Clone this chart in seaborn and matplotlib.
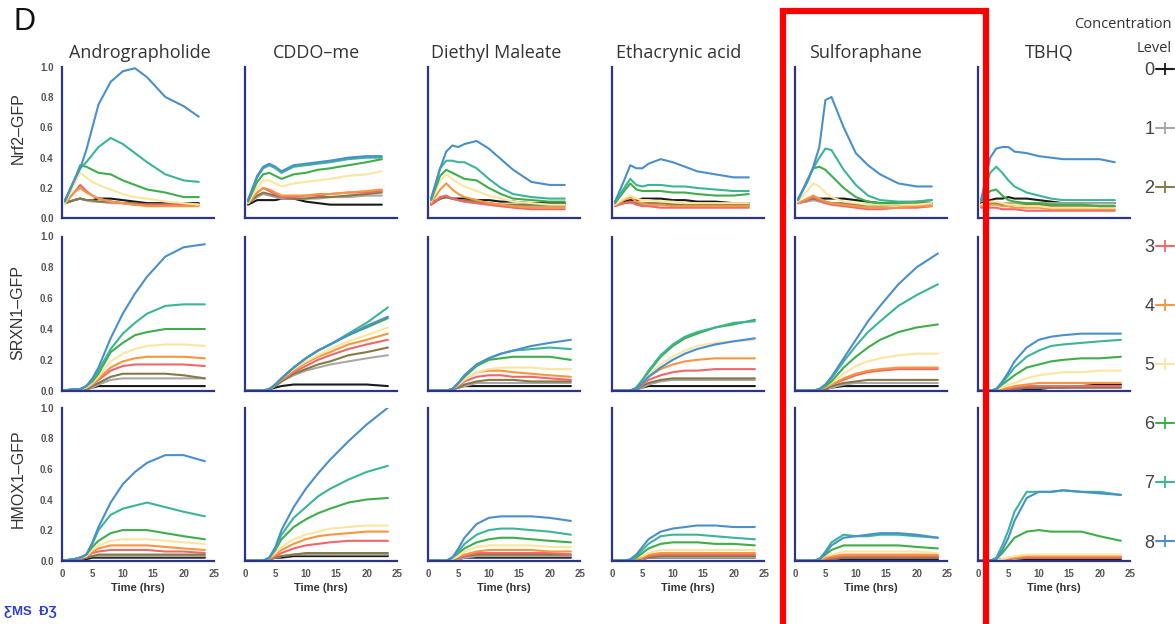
import matplotlib
matplotlib.use("Agg")
import matplotlib.pyplot as plt
from matplotlib.lines import Line2D
from matplotlib.patches import Rectangle
import pandas as pd
import seaborn as sns

# ---------------- data ----------------
compounds = ["Andrographolide", "CDDO–me", "Diethyl Maleate", "Ethacrynic acid", "Sulforaphane", "TBHQ"]
reporters = ["Nrf2–GFP", "SRXN1–GFP", "HMOX1–GFP"]
levels = ["0", "1", "2", "3", "4", "5", "6", "7", "8"]
level_colors = ["#1a1a1a", "#a8a8a8", "#857a45", "#f0676b", "#f7963f", "#fbe6a0", "#3fae49", "#3bb596", "#4a8fcd"]
yticks = [0.0, 0.2, 0.4, 0.6, 0.8, 1.0]
xticks = [0, 5, 10, 15, 20, 25]

time_nrf2 = [0.5, 2, 3, 4, 5, 6, 8, 10, 12, 14, 17, 20, 22.5]
time_late = [0, 2, 3, 4, 5, 6, 8, 10, 12, 14, 17, 20, 23.5]

# each panel: one list per concentration level 0..8
andro_nrf2 = [
    [0.10, 0.12, 0.13, 0.12, 0.12, 0.13, 0.13, 0.12, 0.11, 0.10, 0.10, 0.10, 0.10],
    [0.10, 0.12, 0.13, 0.12, 0.11, 0.11, 0.10, 0.10, 0.09, 0.09, 0.09, 0.09, 0.09],
    [0.10, 0.12, 0.13, 0.12, 0.12, 0.11, 0.11, 0.10, 0.10, 0.09, 0.09, 0.09, 0.09],
    [0.10, 0.17, 0.22, 0.18, 0.15, 0.13, 0.11, 0.10, 0.09, 0.09, 0.09, 0.09, 0.09],
    [0.10, 0.17, 0.20, 0.17, 0.15, 0.13, 0.11, 0.10, 0.09, 0.08, 0.08, 0.08, 0.08],
    [0.10, 0.22, 0.30, 0.27, 0.24, 0.22, 0.19, 0.16, 0.14, 0.13, 0.11, 0.10, 0.09],
    [0.11, 0.25, 0.35, 0.34, 0.32, 0.30, 0.29, 0.25, 0.22, 0.19, 0.17, 0.14, 0.14],
    [0.12, 0.25, 0.33, 0.37, 0.42, 0.47, 0.53, 0.49, 0.43, 0.37, 0.29, 0.25, 0.24],
    [0.12, 0.25, 0.33, 0.45, 0.60, 0.75, 0.90, 0.97, 0.99, 0.93, 0.80, 0.74, 0.67],
]
cddo_nrf2 = [
    [0.09, 0.12, 0.12, 0.12, 0.12, 0.13, 0.13, 0.11, 0.10, 0.09, 0.09, 0.09, 0.09],
    [0.10, 0.14, 0.16, 0.15, 0.14, 0.13, 0.13, 0.13, 0.13, 0.14, 0.14, 0.15, 0.15],
    [0.10, 0.15, 0.17, 0.16, 0.15, 0.14, 0.13, 0.13, 0.14, 0.14, 0.15, 0.16, 0.17],
    [0.10, 0.17, 0.20, 0.18, 0.16, 0.14, 0.14, 0.15, 0.15, 0.16, 0.17, 0.17, 0.18],
    [0.10, 0.17, 0.20, 0.19, 0.17, 0.15, 0.15, 0.15, 0.16, 0.16, 0.17, 0.18, 0.19],
    [0.10, 0.20, 0.25, 0.25, 0.23, 0.21, 0.23, 0.24, 0.25, 0.26, 0.28, 0.29, 0.31],
    [0.11, 0.24, 0.29, 0.30, 0.28, 0.26, 0.29, 0.30, 0.32, 0.33, 0.35, 0.37, 0.39],
    [0.12, 0.27, 0.33, 0.35, 0.33, 0.30, 0.34, 0.35, 0.36, 0.37, 0.39, 0.40, 0.40],
    [0.12, 0.28, 0.34, 0.36, 0.34, 0.31, 0.35, 0.36, 0.37, 0.38, 0.40, 0.41, 0.41],
]
dem_nrf2 = [
    [0.10, 0.13, 0.14, 0.13, 0.13, 0.13, 0.12, 0.12, 0.11, 0.11, 0.10, 0.10, 0.10],
    [0.09, 0.13, 0.14, 0.13, 0.12, 0.11, 0.10, 0.09, 0.08, 0.08, 0.08, 0.08, 0.08],
    [0.09, 0.13, 0.14, 0.13, 0.12, 0.12, 0.11, 0.10, 0.09, 0.09, 0.09, 0.09, 0.09],
    [0.09, 0.14, 0.15, 0.13, 0.12, 0.11, 0.10, 0.09, 0.08, 0.07, 0.06, 0.06, 0.06],
    [0.10, 0.19, 0.23, 0.19, 0.16, 0.14, 0.12, 0.10, 0.09, 0.08, 0.07, 0.07, 0.07],
    [0.11, 0.25, 0.29, 0.26, 0.23, 0.21, 0.18, 0.15, 0.13, 0.11, 0.10, 0.09, 0.09],
    [0.12, 0.28, 0.32, 0.30, 0.28, 0.26, 0.25, 0.20, 0.16, 0.13, 0.12, 0.11, 0.11],
    [0.12, 0.33, 0.38, 0.38, 0.37, 0.37, 0.33, 0.26, 0.20, 0.16, 0.14, 0.13, 0.13],
    [0.13, 0.33, 0.44, 0.48, 0.47, 0.49, 0.51, 0.46, 0.39, 0.32, 0.24, 0.22, 0.22],
]
etha_nrf2 = [
    [0.09, 0.11, 0.12, 0.12, 0.13, 0.13, 0.13, 0.12, 0.12, 0.11, 0.11, 0.10, 0.10],
    [0.09, 0.10, 0.10, 0.10, 0.09, 0.09, 0.09, 0.09, 0.08, 0.08, 0.08, 0.08, 0.08],
    [0.09, 0.10, 0.11, 0.10, 0.10, 0.10, 0.10, 0.09, 0.09, 0.09, 0.09, 0.09, 0.09],
    [0.08, 0.10, 0.11, 0.09, 0.08, 0.08, 0.07, 0.07, 0.07, 0.07, 0.07, 0.07, 0.07],
    [0.09, 0.12, 0.14, 0.11, 0.10, 0.09, 0.09, 0.08, 0.08, 0.08, 0.08, 0.08, 0.08],
    [0.09, 0.13, 0.15, 0.13, 0.12, 0.12, 0.11, 0.11, 0.10, 0.10, 0.10, 0.10, 0.10],
    [0.10, 0.18, 0.23, 0.19, 0.18, 0.18, 0.18, 0.17, 0.17, 0.16, 0.15, 0.15, 0.16],
    [0.11, 0.20, 0.26, 0.22, 0.21, 0.22, 0.22, 0.21, 0.21, 0.20, 0.19, 0.18, 0.18],
    [0.11, 0.25, 0.35, 0.33, 0.33, 0.36, 0.39, 0.37, 0.34, 0.31, 0.29, 0.27, 0.27],
]
sulfo_nrf2 = [
    [0.10, 0.12, 0.12, 0.13, 0.13, 0.13, 0.13, 0.12, 0.11, 0.10, 0.10, 0.10, 0.10],
    [0.10, 0.11, 0.12, 0.11, 0.10, 0.10, 0.09, 0.09, 0.08, 0.08, 0.09, 0.09, 0.09],
    [0.10, 0.12, 0.13, 0.12, 0.11, 0.10, 0.10, 0.09, 0.09, 0.09, 0.09, 0.10, 0.10],
    [0.10, 0.12, 0.14, 0.12, 0.10, 0.09, 0.08, 0.07, 0.06, 0.06, 0.07, 0.07, 0.08],
    [0.10, 0.13, 0.15, 0.13, 0.11, 0.10, 0.09, 0.08, 0.07, 0.07, 0.07, 0.08, 0.08],
    [0.11, 0.18, 0.23, 0.21, 0.17, 0.14, 0.11, 0.10, 0.09, 0.09, 0.09, 0.09, 0.10],
    [0.12, 0.25, 0.33, 0.34, 0.32, 0.28, 0.20, 0.14, 0.11, 0.10, 0.10, 0.11, 0.12],
    [0.12, 0.24, 0.33, 0.40, 0.46, 0.45, 0.32, 0.22, 0.15, 0.12, 0.11, 0.11, 0.12],
    [0.13, 0.24, 0.34, 0.47, 0.78, 0.80, 0.60, 0.43, 0.35, 0.29, 0.23, 0.21, 0.21],
]
tbhq_nrf2 = [
    [0.10, 0.12, 0.13, 0.13, 0.14, 0.13, 0.13, 0.12, 0.11, 0.10, 0.10, 0.10, 0.10],
    [0.09, 0.10, 0.10, 0.10, 0.10, 0.10, 0.10, 0.10, 0.10, 0.10, 0.10, 0.10, 0.10],
    [0.09, 0.10, 0.10, 0.09, 0.09, 0.09, 0.09, 0.09, 0.08, 0.08, 0.08, 0.08, 0.08],
    [0.07, 0.07, 0.07, 0.06, 0.06, 0.06, 0.05, 0.05, 0.05, 0.05, 0.05, 0.05, 0.05],
    [0.08, 0.09, 0.09, 0.08, 0.08, 0.07, 0.07, 0.07, 0.06, 0.06, 0.06, 0.06, 0.06],
    [0.09, 0.11, 0.11, 0.10, 0.09, 0.09, 0.08, 0.08, 0.07, 0.07, 0.07, 0.07, 0.07],
    [0.11, 0.18, 0.19, 0.15, 0.12, 0.11, 0.10, 0.10, 0.09, 0.09, 0.09, 0.08, 0.08],
    [0.12, 0.30, 0.34, 0.30, 0.25, 0.21, 0.17, 0.15, 0.13, 0.12, 0.12, 0.12, 0.12],
    [0.12, 0.40, 0.46, 0.47, 0.47, 0.44, 0.43, 0.41, 0.40, 0.39, 0.39, 0.39, 0.37],
]

andro_srxn1 = [
    [0.00, 0.00, 0.00, 0.01, 0.02, 0.03, 0.03, 0.03, 0.03, 0.03, 0.03, 0.03, 0.03],
    [0.00, 0.00, 0.01, 0.01, 0.02, 0.04, 0.07, 0.08, 0.08, 0.08, 0.08, 0.08, 0.08],
    [0.00, 0.00, 0.01, 0.01, 0.03, 0.05, 0.09, 0.11, 0.11, 0.11, 0.11, 0.10, 0.08],
    [0.00, 0.01, 0.01, 0.02, 0.04, 0.07, 0.13, 0.16, 0.17, 0.17, 0.17, 0.17, 0.16],
    [0.00, 0.01, 0.01, 0.02, 0.04, 0.08, 0.15, 0.19, 0.21, 0.22, 0.22, 0.22, 0.21],
    [0.00, 0.01, 0.01, 0.02, 0.05, 0.09, 0.19, 0.24, 0.27, 0.29, 0.30, 0.30, 0.29],
    [0.00, 0.01, 0.01, 0.03, 0.06, 0.11, 0.25, 0.31, 0.36, 0.38, 0.40, 0.40, 0.40],
    [0.00, 0.01, 0.01, 0.03, 0.07, 0.13, 0.27, 0.37, 0.44, 0.50, 0.55, 0.56, 0.56],
    [0.00, 0.01, 0.01, 0.03, 0.08, 0.15, 0.34, 0.50, 0.63, 0.74, 0.87, 0.93, 0.95],
]
cddo_srxn1 = [
    [0.00, 0.00, 0.00, 0.01, 0.02, 0.03, 0.04, 0.04, 0.04, 0.04, 0.04, 0.04, 0.03],
    [0.00, 0.00, 0.00, 0.01, 0.03, 0.06, 0.10, 0.13, 0.15, 0.17, 0.19, 0.21, 0.23],
    [0.00, 0.00, 0.00, 0.01, 0.03, 0.06, 0.11, 0.14, 0.17, 0.19, 0.23, 0.25, 0.28],
    [0.00, 0.00, 0.00, 0.01, 0.04, 0.07, 0.12, 0.16, 0.20, 0.23, 0.27, 0.30, 0.33],
    [0.00, 0.00, 0.00, 0.01, 0.04, 0.07, 0.13, 0.18, 0.22, 0.25, 0.30, 0.33, 0.37],
    [0.00, 0.00, 0.00, 0.01, 0.04, 0.08, 0.14, 0.19, 0.23, 0.27, 0.32, 0.36, 0.41],
    [0.00, 0.00, 0.00, 0.01, 0.04, 0.08, 0.15, 0.21, 0.26, 0.30, 0.36, 0.41, 0.47],
    [0.00, 0.00, 0.00, 0.01, 0.04, 0.08, 0.15, 0.21, 0.26, 0.30, 0.37, 0.44, 0.54],
    [0.00, 0.00, 0.00, 0.01, 0.04, 0.08, 0.15, 0.21, 0.26, 0.30, 0.36, 0.42, 0.48],
]
dem_srxn1 = [
    [0.00, 0.00, 0.00, 0.01, 0.02, 0.03, 0.03, 0.03, 0.03, 0.03, 0.03, 0.03, 0.03],
    [0.00, 0.00, 0.00, 0.01, 0.02, 0.03, 0.05, 0.05, 0.05, 0.05, 0.05, 0.05, 0.05],
    [0.00, 0.00, 0.00, 0.01, 0.02, 0.04, 0.06, 0.07, 0.07, 0.07, 0.06, 0.06, 0.06],
    [0.00, 0.00, 0.00, 0.01, 0.03, 0.06, 0.09, 0.10, 0.10, 0.09, 0.09, 0.08, 0.07],
    [0.00, 0.00, 0.00, 0.01, 0.04, 0.07, 0.12, 0.13, 0.13, 0.12, 0.11, 0.10, 0.09],
    [0.00, 0.00, 0.00, 0.01, 0.04, 0.07, 0.12, 0.14, 0.15, 0.15, 0.15, 0.14, 0.14],
    [0.00, 0.00, 0.00, 0.01, 0.05, 0.09, 0.16, 0.20, 0.21, 0.22, 0.22, 0.22, 0.20],
    [0.00, 0.00, 0.00, 0.01, 0.05, 0.10, 0.17, 0.21, 0.24, 0.26, 0.27, 0.28, 0.27],
    [0.00, 0.00, 0.00, 0.01, 0.05, 0.10, 0.17, 0.21, 0.24, 0.26, 0.29, 0.31, 0.33],
]
etha_srxn1 = [
    [0.00, 0.00, 0.00, 0.01, 0.02, 0.03, 0.03, 0.03, 0.03, 0.03, 0.03, 0.03, 0.03],
    [0.00, 0.00, 0.00, 0.01, 0.02, 0.04, 0.06, 0.07, 0.07, 0.07, 0.07, 0.07, 0.07],
    [0.00, 0.00, 0.00, 0.01, 0.03, 0.05, 0.07, 0.08, 0.08, 0.08, 0.08, 0.08, 0.08],
    [0.00, 0.00, 0.00, 0.01, 0.04, 0.07, 0.10, 0.12, 0.13, 0.13, 0.14, 0.14, 0.14],
    [0.00, 0.00, 0.00, 0.01, 0.05, 0.09, 0.14, 0.17, 0.19, 0.20, 0.21, 0.21, 0.21],
    [0.00, 0.00, 0.00, 0.02, 0.06, 0.10, 0.17, 0.22, 0.26, 0.29, 0.31, 0.32, 0.33],
    [0.00, 0.00, 0.00, 0.02, 0.07, 0.12, 0.22, 0.29, 0.34, 0.37, 0.41, 0.43, 0.46],
    [0.00, 0.00, 0.00, 0.02, 0.07, 0.13, 0.23, 0.30, 0.35, 0.38, 0.41, 0.44, 0.45],
    [0.00, 0.00, 0.00, 0.01, 0.05, 0.09, 0.15, 0.20, 0.24, 0.27, 0.30, 0.32, 0.34],
]
sulfo_srxn1 = [
    [0.00, 0.00, 0.00, 0.00, 0.01, 0.02, 0.03, 0.03, 0.03, 0.03, 0.03, 0.03, 0.03],
    [0.00, 0.00, 0.00, 0.00, 0.01, 0.02, 0.04, 0.05, 0.05, 0.05, 0.05, 0.05, 0.05],
    [0.00, 0.00, 0.00, 0.00, 0.01, 0.03, 0.05, 0.06, 0.07, 0.07, 0.07, 0.07, 0.07],
    [0.00, 0.00, 0.00, 0.01, 0.02, 0.04, 0.07, 0.10, 0.12, 0.13, 0.14, 0.14, 0.14],
    [0.00, 0.00, 0.00, 0.01, 0.02, 0.04, 0.08, 0.11, 0.13, 0.14, 0.15, 0.15, 0.15],
    [0.00, 0.00, 0.00, 0.01, 0.03, 0.05, 0.11, 0.16, 0.19, 0.21, 0.23, 0.24, 0.24],
    [0.00, 0.00, 0.00, 0.01, 0.03, 0.06, 0.15, 0.22, 0.28, 0.33, 0.38, 0.41, 0.43],
    [0.00, 0.00, 0.00, 0.01, 0.04, 0.08, 0.19, 0.29, 0.38, 0.45, 0.55, 0.62, 0.69],
    [0.00, 0.00, 0.00, 0.01, 0.04, 0.09, 0.21, 0.33, 0.45, 0.55, 0.69, 0.80, 0.89],
]
tbhq_srxn1 = [
    [0.00, 0.00, 0.00, 0.00, 0.00, 0.01, 0.01, 0.01, 0.02, 0.02, 0.03, 0.04, 0.04],
    [0.00, 0.00, 0.00, 0.00, 0.01, 0.01, 0.02, 0.02, 0.02, 0.02, 0.02, 0.02, 0.02],
    [0.00, 0.00, 0.00, 0.00, 0.01, 0.01, 0.02, 0.02, 0.02, 0.02, 0.02, 0.02, 0.02],
    [0.00, 0.00, 0.00, 0.01, 0.01, 0.02, 0.03, 0.03, 0.03, 0.03, 0.03, 0.03, 0.03],
    [0.00, 0.00, 0.00, 0.01, 0.02, 0.03, 0.04, 0.05, 0.05, 0.05, 0.05, 0.05, 0.05],
    [0.00, 0.00, 0.01, 0.02, 0.04, 0.05, 0.08, 0.10, 0.11, 0.12, 0.12, 0.13, 0.13],
    [0.00, 0.00, 0.01, 0.04, 0.07, 0.10, 0.15, 0.17, 0.19, 0.20, 0.21, 0.21, 0.22],
    [0.00, 0.00, 0.01, 0.05, 0.10, 0.15, 0.22, 0.26, 0.29, 0.30, 0.31, 0.32, 0.33],
    [0.00, 0.00, 0.01, 0.06, 0.12, 0.19, 0.28, 0.33, 0.35, 0.36, 0.37, 0.37, 0.37],
]

andro_hmox1 = [
    [0.00, 0.00, 0.01, 0.01, 0.02, 0.02, 0.02, 0.02, 0.02, 0.02, 0.02, 0.02, 0.02],
    [0.00, 0.00, 0.01, 0.02, 0.03, 0.03, 0.03, 0.03, 0.03, 0.03, 0.03, 0.03, 0.03],
    [0.00, 0.00, 0.01, 0.02, 0.03, 0.04, 0.04, 0.04, 0.04, 0.04, 0.04, 0.04, 0.04],
    [0.00, 0.01, 0.01, 0.03, 0.05, 0.06, 0.07, 0.07, 0.07, 0.07, 0.06, 0.06, 0.05],
    [0.00, 0.01, 0.02, 0.03, 0.06, 0.08, 0.10, 0.10, 0.10, 0.10, 0.09, 0.08, 0.07],
    [0.00, 0.01, 0.02, 0.03, 0.07, 0.10, 0.13, 0.14, 0.14, 0.14, 0.13, 0.12, 0.11],
    [0.00, 0.01, 0.02, 0.04, 0.09, 0.13, 0.18, 0.20, 0.20, 0.20, 0.18, 0.16, 0.14],
    [0.00, 0.01, 0.02, 0.04, 0.11, 0.20, 0.30, 0.34, 0.36, 0.38, 0.35, 0.32, 0.29],
    [0.00, 0.01, 0.02, 0.04, 0.12, 0.22, 0.38, 0.50, 0.58, 0.64, 0.69, 0.69, 0.65],
]
cddo_hmox1 = [
    [0.00, 0.00, 0.00, 0.01, 0.02, 0.02, 0.03, 0.03, 0.03, 0.03, 0.03, 0.03, 0.03],
    [0.00, 0.00, 0.00, 0.01, 0.02, 0.03, 0.04, 0.04, 0.04, 0.04, 0.04, 0.04, 0.04],
    [0.00, 0.00, 0.00, 0.01, 0.02, 0.03, 0.04, 0.05, 0.05, 0.05, 0.05, 0.05, 0.05],
    [0.00, 0.00, 0.00, 0.01, 0.03, 0.05, 0.08, 0.10, 0.11, 0.12, 0.13, 0.13, 0.13],
    [0.00, 0.00, 0.00, 0.01, 0.04, 0.07, 0.11, 0.14, 0.16, 0.17, 0.18, 0.19, 0.19],
    [0.00, 0.00, 0.00, 0.02, 0.05, 0.09, 0.14, 0.17, 0.19, 0.21, 0.22, 0.23, 0.23],
    [0.00, 0.00, 0.00, 0.02, 0.07, 0.14, 0.22, 0.27, 0.31, 0.34, 0.38, 0.40, 0.41],
    [0.00, 0.00, 0.00, 0.02, 0.08, 0.17, 0.28, 0.35, 0.42, 0.47, 0.53, 0.58, 0.62],
    [0.00, 0.00, 0.00, 0.02, 0.09, 0.20, 0.35, 0.47, 0.57, 0.66, 0.78, 0.89, 1.00],
]
dem_hmox1 = [
    [0.00, 0.00, 0.00, 0.01, 0.01, 0.02, 0.02, 0.02, 0.02, 0.02, 0.02, 0.02, 0.02],
    [0.00, 0.00, 0.00, 0.01, 0.01, 0.02, 0.03, 0.03, 0.03, 0.03, 0.03, 0.03, 0.03],
    [0.00, 0.00, 0.00, 0.01, 0.02, 0.03, 0.04, 0.04, 0.04, 0.04, 0.04, 0.04, 0.04],
    [0.00, 0.00, 0.00, 0.01, 0.02, 0.03, 0.05, 0.05, 0.05, 0.05, 0.05, 0.05, 0.04],
    [0.00, 0.00, 0.00, 0.01, 0.03, 0.04, 0.06, 0.07, 0.07, 0.07, 0.07, 0.06, 0.06],
    [0.00, 0.00, 0.00, 0.01, 0.03, 0.06, 0.09, 0.10, 0.10, 0.10, 0.10, 0.09, 0.09],
    [0.00, 0.00, 0.00, 0.02, 0.05, 0.08, 0.12, 0.14, 0.15, 0.15, 0.14, 0.13, 0.12],
    [0.00, 0.00, 0.00, 0.02, 0.06, 0.11, 0.17, 0.20, 0.21, 0.21, 0.20, 0.19, 0.17],
    [0.00, 0.00, 0.00, 0.02, 0.08, 0.15, 0.24, 0.28, 0.29, 0.29, 0.29, 0.28, 0.26],
]
etha_hmox1 = [
    [0.00, 0.00, 0.00, 0.01, 0.01, 0.02, 0.02, 0.02, 0.02, 0.02, 0.02, 0.02, 0.02],
    [0.00, 0.00, 0.00, 0.01, 0.01, 0.02, 0.02, 0.02, 0.02, 0.02, 0.02, 0.02, 0.02],
    [0.00, 0.00, 0.00, 0.01, 0.02, 0.02, 0.03, 0.03, 0.03, 0.03, 0.03, 0.03, 0.03],
    [0.00, 0.00, 0.00, 0.01, 0.02, 0.03, 0.04, 0.04, 0.04, 0.04, 0.04, 0.04, 0.04],
    [0.00, 0.00, 0.00, 0.01, 0.02, 0.04, 0.05, 0.05, 0.05, 0.05, 0.05, 0.05, 0.05],
    [0.00, 0.00, 0.00, 0.02, 0.03, 0.05, 0.07, 0.07, 0.07, 0.07, 0.07, 0.07, 0.07],
    [0.00, 0.00, 0.00, 0.02, 0.05, 0.08, 0.11, 0.12, 0.12, 0.12, 0.11, 0.11, 0.10],
    [0.00, 0.00, 0.00, 0.03, 0.07, 0.11, 0.16, 0.17, 0.17, 0.17, 0.16, 0.15, 0.14],
    [0.00, 0.00, 0.01, 0.04, 0.09, 0.14, 0.19, 0.21, 0.22, 0.23, 0.23, 0.22, 0.22],
]
sulfo_hmox1 = [
    [0.00, 0.00, 0.00, 0.00, 0.01, 0.01, 0.01, 0.01, 0.01, 0.01, 0.01, 0.01, 0.01],
    [0.00, 0.00, 0.00, 0.00, 0.01, 0.01, 0.02, 0.02, 0.02, 0.02, 0.02, 0.02, 0.02],
    [0.00, 0.00, 0.00, 0.00, 0.01, 0.01, 0.02, 0.02, 0.02, 0.02, 0.02, 0.02, 0.02],
    [0.00, 0.00, 0.00, 0.00, 0.01, 0.02, 0.03, 0.03, 0.03, 0.03, 0.03, 0.03, 0.03],
    [0.00, 0.00, 0.00, 0.00, 0.02, 0.03, 0.04, 0.04, 0.04, 0.04, 0.04, 0.04, 0.04],
    [0.00, 0.00, 0.00, 0.01, 0.03, 0.04, 0.06, 0.06, 0.06, 0.06, 0.06, 0.06, 0.05],
    [0.00, 0.00, 0.00, 0.01, 0.04, 0.07, 0.10, 0.10, 0.10, 0.10, 0.10, 0.09, 0.08],
    [0.00, 0.00, 0.00, 0.01, 0.06, 0.12, 0.17, 0.16, 0.16, 0.17, 0.17, 0.16, 0.15],
    [0.00, 0.00, 0.00, 0.01, 0.05, 0.10, 0.15, 0.16, 0.17, 0.18, 0.18, 0.17, 0.15],
]
tbhq_hmox1 = [
    [0.00, 0.00, 0.00, 0.01, 0.01, 0.01, 0.01, 0.01, 0.01, 0.01, 0.01, 0.01, 0.01],
    [0.00, 0.00, 0.00, 0.01, 0.01, 0.01, 0.02, 0.02, 0.02, 0.02, 0.02, 0.02, 0.02],
    [0.00, 0.00, 0.00, 0.01, 0.01, 0.02, 0.02, 0.02, 0.02, 0.02, 0.02, 0.02, 0.02],
    [0.00, 0.00, 0.00, 0.01, 0.01, 0.02, 0.02, 0.02, 0.02, 0.02, 0.02, 0.02, 0.02],
    [0.00, 0.00, 0.00, 0.01, 0.02, 0.02, 0.03, 0.03, 0.03, 0.03, 0.03, 0.03, 0.03],
    [0.00, 0.00, 0.00, 0.01, 0.02, 0.03, 0.04, 0.04, 0.04, 0.04, 0.04, 0.04, 0.04],
    [0.00, 0.00, 0.01, 0.05, 0.10, 0.15, 0.19, 0.20, 0.19, 0.19, 0.19, 0.16, 0.13],
    [0.00, 0.00, 0.02, 0.10, 0.20, 0.32, 0.45, 0.45, 0.45, 0.46, 0.45, 0.45, 0.43],
    [0.00, 0.00, 0.01, 0.07, 0.15, 0.26, 0.41, 0.45, 0.45, 0.46, 0.45, 0.44, 0.43],
]

panels = [
    [andro_nrf2, cddo_nrf2, dem_nrf2, etha_nrf2, sulfo_nrf2, tbhq_nrf2],
    [andro_srxn1, cddo_srxn1, dem_srxn1, etha_srxn1, sulfo_srxn1, tbhq_srxn1],
    [andro_hmox1, cddo_hmox1, dem_hmox1, etha_hmox1, sulfo_hmox1, tbhq_hmox1],
]
row_times = [time_nrf2, time_late, time_late]

# ---------------- style ----------------
sns.set_style("white")
plt.rcParams["font.family"] = ["Liberation Sans", "DejaVu Sans"]
NAVY = "#2c3486"
palette = dict(zip(levels, level_colors))

W, H = 1175, 624
fig = plt.figure(figsize=(W / 100, H / 100), dpi=100)

col_left = [62, 245, 428, 612, 795, 978]
col_w = 152
row_span = [(66.7, 218.3), (236.5, 390.7), (407.7, 560.7)]
title_x = [140, 316, 496, 679, 866, 1049]
ylabel_y = [128, 313, 479]

for r in range(3):
    top, bot = row_span[r]
    for c in range(6):
        ax = fig.add_axes([col_left[c] / W, 1 - bot / H, col_w / W, (bot - top) / H])
        recs = []
        for lvl, series in zip(levels, panels[r][c]):
            for t, v in zip(row_times[r], series):
                recs.append({"time": t, "value": v, "level": lvl})
        df = pd.DataFrame(recs)
        sns.lineplot(data=df, x="time", y="value", hue="level", hue_order=levels,
                     palette=palette, estimator=None, legend=False, ax=ax,
                     linewidth=1.5)
        ax.set_xlim(0, 25)
        ax.set_ylim(0, 1.0)
        ax.set_xticks(xticks)
        ax.set_yticks(yticks)
        ax.set_xlabel("")
        ax.set_ylabel("")
        for s in ["top", "right"]:
            ax.spines[s].set_visible(False)
        for s in ["left", "bottom"]:
            ax.spines[s].set_color(NAVY)
            ax.spines[s].set_linewidth(1.6)
        ax.tick_params(direction="out", length=4.5, width=1.4, color=NAVY,
                       labelsize=7, labelcolor="#555555", pad=1.5)
        if c == 0:
            ax.set_yticklabels([f"{v:.1f}" for v in yticks])
            for lb in ax.get_yticklabels():
                lb.set_fontweight("bold")
        else:
            ax.set_yticklabels([])
        if r == 2:
            ax.set_xticklabels([str(v) for v in xticks])
            for lb in ax.get_xticklabels():
                lb.set_fontweight("bold")
            ax.set_xlabel("Time (hrs)", fontsize=8, fontweight="bold",
                          color="#333333", labelpad=3)
        else:
            ax.set_xticklabels([])
        if r == 0:
            fig.text(title_x[c] / W, 1 - 53 / H, compounds[c],
                     ha="center", va="center", fontsize=13, color="#333333",
                     family=["Open Sans", "DejaVu Sans"])
    fig.text(18 / W, 1 - ylabel_y[r] / H, reporters[r], rotation=90,
             ha="center", va="center", fontsize=11.5, color="#333333")

fig.text(13 / W, 1 - 22 / H, "D", fontsize=22, ha="left", va="center", color="#111111")

# legend: title lines + entries
fig.text(1172 / W, 1 - 25 / H, "Concentration", ha="right", va="center",
         fontsize=10.5, color="#333333", family=["Open Sans", "DejaVu Sans"])
fig.text(1172 / W, 1 - 49 / H, "Level", ha="right", va="center",
         fontsize=10.5, color="#333333", family=["Open Sans", "DejaVu Sans"])
handles = [Line2D([], [], color=col, lw=1.5, marker="+", markersize=8, markeredgewidth=1.3)
           for col in level_colors]
leg = fig.legend(handles, levels, loc="upper right",
                 bbox_to_anchor=(1174 / W, 1 - 62 / H),
                 frameon=False, markerfirst=False, handlelength=1.0, handletextpad=0.1,
                 fontsize=13, labelspacing=2.33, borderaxespad=0, borderpad=0)
for txt in leg.get_texts():
    txt.set_color("#444444")

fig.patches.append(Rectangle((783 / W, -0.05), (986 - 783) / W, 1.05 - 11 / H,
                             transform=fig.transFigure, fill=False, ec="#ff0000",
                             lw=4.5, clip_on=False))

fig.text(4 / W, 1 - 612 / H, "ƸMS  ƉƷ", fontsize=9.5, fontweight="bold",
         color="#2b3fd6", ha="left", va="center")

fig.savefig("out.png", dpi=100)
